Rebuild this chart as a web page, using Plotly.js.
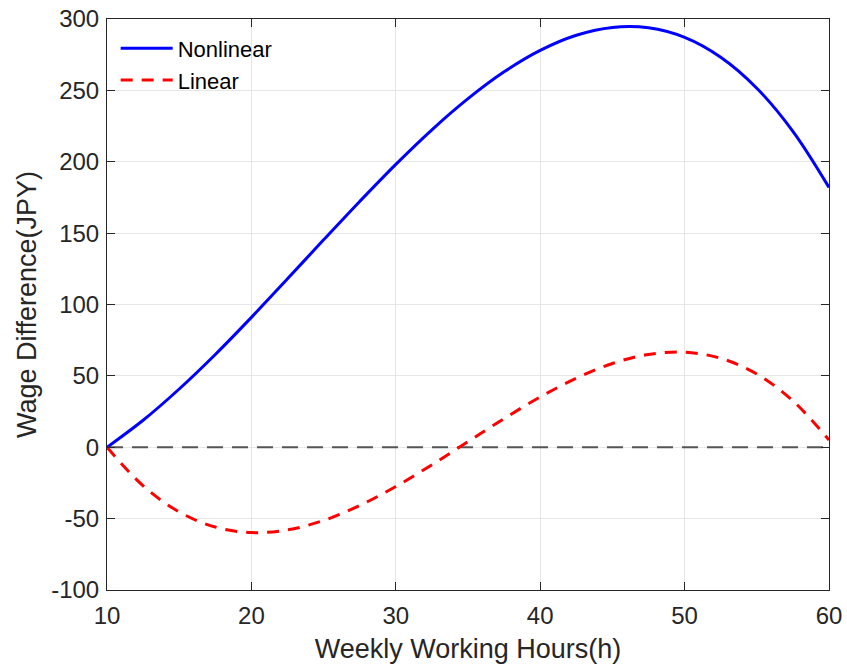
<!DOCTYPE html>
<html><head><meta charset="utf-8">
<script src="https://cdn.plot.ly/plotly-3.0.1.min.js"></script>
<style>html,body{margin:0;padding:0;background:#fff}#chart{width:847px;height:669px}</style>
</head><body><div id="chart"></div>
<script>
const hours = [10, 12.5, 15, 17.5, 20, 22.5, 25, 27.5, 30, 32.5, 35, 37.5, 40, 42.5, 45, 47.5, 50, 52.5, 55, 57.5, 60];
const nonlinear = [0, 18.9, 40.8, 65.0, 91.0, 118.0, 145.3, 172.2, 198.2, 222.4, 244.2, 263.0, 278.0, 288.6, 294.1, 293.8, 287.1, 273.2, 251.5, 221.3, 182.0];
const linear = [0, -27.0, -45.3, -55.9, -59.8, -57.9, -51.3, -40.8, -27.5, -12.3, 3.9, 20.1, 35.2, 48.4, 58.7, 65.0, 66.6, 62.3, 51.3, 32.5, 5.0];
const zeroX = [10, 60];
const zeroY = [0, 0];
const xTicks = [10, 20, 30, 40, 50, 60];
const yTicks = [-100, -50, 0, 50, 100, 150, 200, 250, 300];
const yTickText = ['-100', '-50', '0', '50', '100', '150', '200', '250', '300'];

const fam = 'Liberation Sans, Arial, sans-serif';
const traces = [
  {x: zeroX, y: zeroY, mode: 'lines', line: {color: '#555555', width: 2.2, dash: '16px,9px'}, showlegend: false, hoverinfo: 'skip'},
  {x: hours, y: nonlinear, name: 'Nonlinear', mode: 'lines', line: {color: '#0000ff', width: 3, shape: 'spline'}},
  {x: hours, y: linear, name: 'Linear', mode: 'lines', line: {color: '#ff0000', width: 3, shape: 'spline', dash: '12px,9px'}}
];
const axisCommon = {
  showline: true, mirror: 'ticks', linecolor: '#262626', linewidth: 1,
  ticks: 'inside', ticklen: 8, tickcolor: '#262626',
  showgrid: true, gridcolor: '#e6e6e6', gridwidth: 1, zeroline: false,
  tickfont: {family: fam, size: 24, color: '#262626'}
};
const layout = {
  width: 847, height: 669,
  margin: {l: 107, r: 18, t: 19, b: 79},
  paper_bgcolor: '#fff', plot_bgcolor: '#fff',
  xaxis: Object.assign({}, axisCommon, {range: [10, 60], tickvals: xTicks, ticklabelstandoff: 4,
    title: {text: 'Weekly Working Hours(h)', font: {family: fam, size: 27, color: '#262626'}, standoff: 11}}),
  yaxis: Object.assign({}, axisCommon, {range: [-100, 300], tickvals: yTicks, ticktext: yTickText, ticklabelstandoff: 2,
    title: {text: 'Wage Difference(JPY)', font: {family: fam, size: 27, color: '#262626'}, standoff: 6}}),
  legend: {x: 0.012, y: 0.985, xanchor: 'left', yanchor: 'top', bgcolor: 'rgba(255,255,255,0)',
    font: {family: fam, size: 22, color: '#000'}, tracegroupgap: 0, itemwidth: 52},
  showlegend: true
};
Plotly.newPlot('chart', traces, layout, {displayModeBar: false, staticPlot: true});
</script></body></html>
